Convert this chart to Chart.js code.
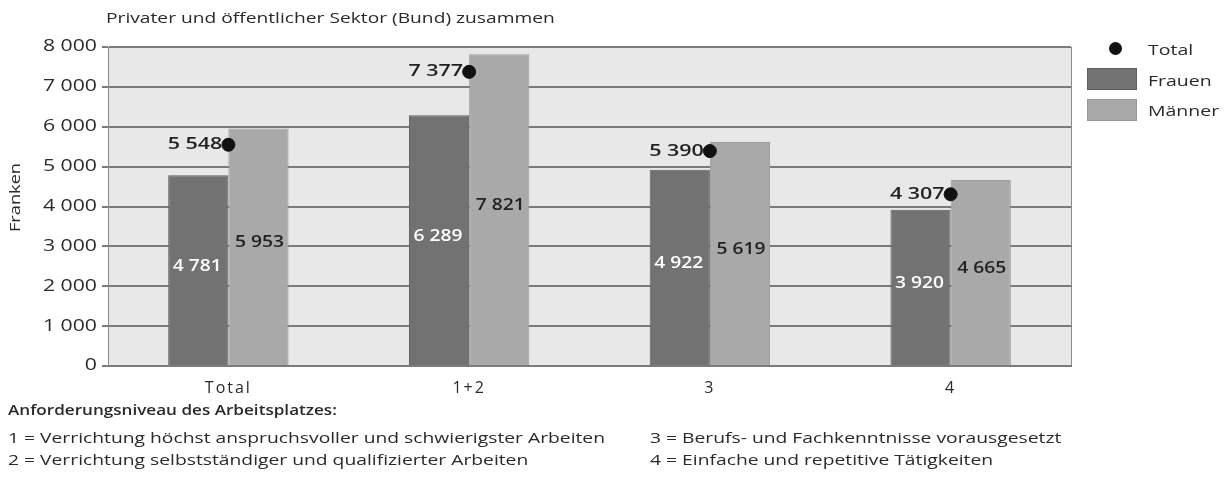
<!DOCTYPE html>
<html>
<head>
<meta charset="utf-8">
<script src="https://cdn.jsdelivr.net/npm/chart.js@4/dist/chart.umd.min.js"></script>
<style>
  html, body { margin: 0; padding: 0; background: #fff; }
  #wrap { position: relative; width: 1227px; height: 484px; font-family: "Open Sans", sans-serif; color: #2a2a2a; overflow: hidden; }
  #c { position: absolute; left: 0; top: 0; }
  .t { position: absolute; white-space: nowrap; line-height: 18px; font-size: 15px; transform-origin: 0 50%; transform: scaleX(1.3); }
  .fn { transform: scaleX(1.285); }
  .lg-box { position: absolute; width: 50px; height: 22px; box-sizing: border-box; }
  .lg-dot { position: absolute; width: 13px; height: 13px; border-radius: 50%; background: #111; }
</style>
</head>
<body>
<div id="wrap">
  <canvas id="c" width="1227" height="484"></canvas>
  <div class="t" style="left:106px; top:8px; transform:scaleX(1.28);">Privater und öffentlicher Sektor (Bund) zusammen</div>
  <div class="lg-dot" style="left:1109px; top:42px;"></div>
  <div class="t" style="left:1148px; top:40px;">Total</div>
  <div class="lg-box" style="left:1087px; top:68px; background:#727272; border:1px solid #5e5e5e;"></div>
  <div class="t" style="left:1148px; top:71px;">Frauen</div>
  <div class="lg-box" style="left:1087px; top:99px; background:#a9a9a9; border:1px solid #999;"></div>
  <div class="t" style="left:1148px; top:101px;">Männer</div>
  <div class="t" style="left:8px; top:400px; font-weight:600; transform:scaleX(1.14);">Anforderungsniveau des Arbeitsplatzes:</div>
  <div class="t fn" style="left:8px; top:428px;">1 = Verrichtung höchst anspruchsvoller und schwierigster Arbeiten</div>
  <div class="t fn" style="left:8px; top:450px;">2 = Verrichtung selbstständiger und qualifizierter Arbeiten</div>
  <div class="t fn" style="left:650px; top:428px;">3 = Berufs- und Fachkenntnisse vorausgesetzt</div>
  <div class="t fn" style="left:650px; top:450px;">4 = Einfache und repetitive Tätigkeiten</div>
</div>
<script>
const categories = ['Total', '1+2', '3', '4'];
const frauen = [4781, 6289, 4922, 3920];
const maenner = [5953, 7821, 5619, 4665];
const total = [5548, 7377, 5390, 4307];
const yTickValues = [0, 1000, 2000, 3000, 4000, 5000, 6000, 7000, 8000];

function fmt(v) {
  return String(v).replace(/\B(?=(\d{3})+(?!\d))/g, ' ');
}

// widen the axis texts to match the wide typeface of the reference
const widenPlugin = {
  id: 'widenText',
  beforeDraw(chart) {
    const x = chart.scales.x, y = chart.scales.y;
    if (x && !x._patched) {
      const orig = x.drawLabels.bind(x);
      x.drawLabels = function (area) {
        const ctx = this.ctx; const prev = ctx.letterSpacing;
        ctx.letterSpacing = '2px'; orig(area); ctx.letterSpacing = prev || '0px';
      };
      x._patched = true;
    }
    if (y && !y._patched) {
      const origL = y.drawLabels.bind(y);
      const origT = y.drawTitle.bind(y);
      y.drawLabels = function (area) {
        const ctx = this.ctx;
        const x0 = this.right - this.options.grid.tickLength - this.options.ticks.padding;
        ctx.save(); ctx.translate(x0, 0); ctx.scale(1.37, 1); ctx.translate(-x0, 0);
        origL(area); ctx.restore();
      };
      y.drawTitle = function (area) {
        const ctx = this.ctx;
        const cy = (this.top + this.bottom) / 2;
        ctx.save(); ctx.translate(0, cy - 9); ctx.scale(1, 1.3); ctx.translate(0, -cy);
        origT(area); ctx.restore();
      };
      y._patched = true;
    }
  }
};

const bgPlugin = {
  id: 'plotBg',
  beforeDraw(chart) {
    const { ctx, chartArea: a } = chart;
    ctx.save();
    ctx.fillStyle = '#e8e8e8';
    ctx.fillRect(a.left, a.top, a.right - a.left, a.bottom - a.top);
    ctx.strokeStyle = '#8a8a8a';
    ctx.lineWidth = 1;
    ctx.beginPath();
    ctx.moveTo(a.right + 0.5, a.top);
    ctx.lineTo(a.right + 0.5, a.bottom);
    ctx.stroke();
    ctx.restore();
  }
};

const labelPlugin = {
  id: 'valueLabels',
  afterDatasetsDraw(chart) {
    const { ctx } = chart;
    chart.data.datasets.forEach((ds, i) => {
      const meta = chart.getDatasetMeta(i);
      meta.data.forEach((el, j) => {
        const v = ds.data[j];
        ctx.save();
        ctx.font = '600 16px "Open Sans", sans-serif';
        ctx.textBaseline = 'middle';
        let k;
        if (ds.type === 'line') {
          ctx.fillStyle = '#222';
          ctx.textAlign = 'right';
          ctx.translate(el.x - 6, el.y);
          k = 1.34;
        } else {
          ctx.fillStyle = ds.labelColor;
          ctx.textAlign = 'center';
          ctx.translate(el.x + (i === 2 ? 1 : -1), (el.y + el.base) / 2 - 4);
          k = 1.2;
        }
        ctx.scale(k, 1);
        ctx.fillText(fmt(v), 0, 0);
        ctx.restore();
      });
    });
  }
};

new Chart(document.getElementById('c'), {
  data: {
    labels: categories,
    datasets: [
      {
        type: 'line', label: 'Total', data: total, showLine: false,
        pointRadius: 6.5, pointHoverRadius: 6.5, pointBackgroundColor: '#111', pointBorderColor: '#111',
        order: 0
      },
      {
        type: 'bar', label: 'Frauen', data: frauen, backgroundColor: '#727272',
        borderColor: '#5e5e5e', borderWidth: 1, labelColor: '#ffffff', order: 1
      },
      {
        type: 'bar', label: 'Männer', data: maenner, backgroundColor: '#a9a9a9',
        borderColor: '#9a9a9a', borderWidth: 1, labelColor: '#222', order: 1
      }
    ]
  },
  options: {
    responsive: false,
    devicePixelRatio: 1,
    animation: false,
    layout: { padding: { top: 47, right: 156, left: 0, bottom: 0 } },
    datasets: { bar: { categoryPercentage: 0.5, barPercentage: 1.0 } },
    plugins: { legend: { display: false }, tooltip: { enabled: false } },
    scales: {
      x: {
        grid: { display: false },
        border: { display: true, color: '#7b7b7b', width: 2 },
        ticks: { color: '#2a2a2a', font: { family: 'Open Sans', size: 16 }, padding: 5 },
        afterFit(s) { s.height = 118; }
      },
      y: {
        min: 0, max: 8000,
        afterBuildTicks(s) { s.ticks = yTickValues.map(v => ({ value: v })); },
        grid: { color: '#7b7b7b', lineWidth: 2, tickLength: 6 },
        border: { display: true, color: '#8a8a8a', width: 1 },
        ticks: { color: '#2a2a2a', font: { family: 'Open Sans', size: 15.5 }, padding: 5, callback: v => fmt(v) },
        title: { display: true, text: 'Franken', color: '#2a2a2a', font: { family: 'Open Sans', size: 14 }, padding: { top: 8, bottom: 0 } },
        afterFit(s) { s.width = 108; }
      }
    }
  },
  plugins: [widenPlugin, bgPlugin, labelPlugin]
});
</script>
</body>
</html>
